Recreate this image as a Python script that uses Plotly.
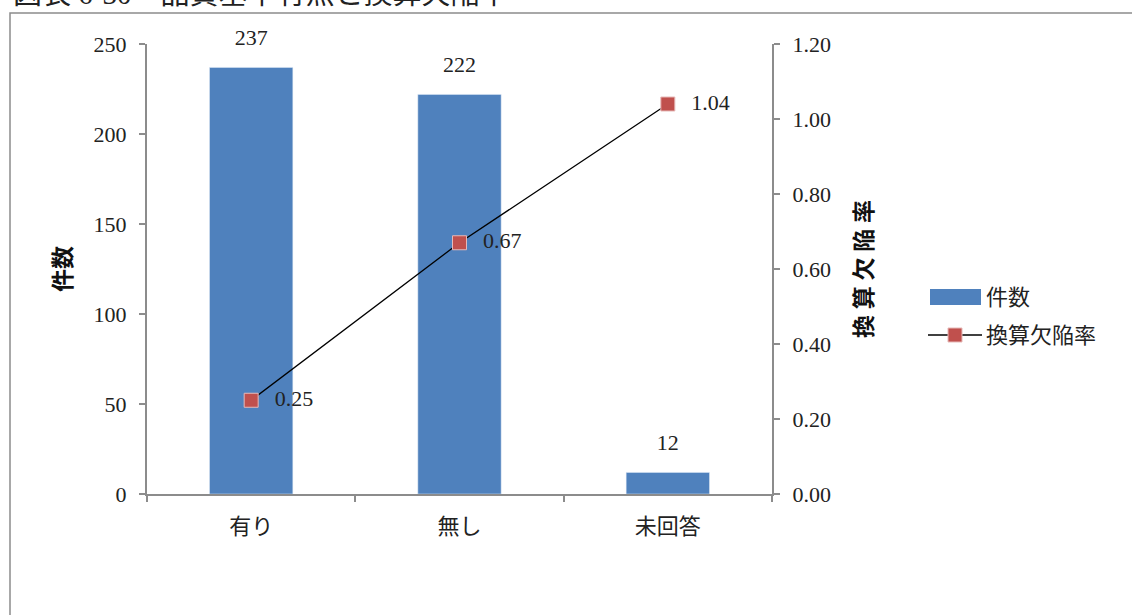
import plotly.graph_objects as go

categories = ["有り", "無し", "未回答"]
counts = [237, 222, 12]
defect_rates = [0.25, 0.67, 1.04]
y1_ticks = [0, 50, 100, 150, 200, 250]
y2_ticks = [0, 0.2, 0.4, 0.6, 0.8, 1.0, 1.2]

FONT = "'Liberation Serif', 'Noto Sans CJK JP', serif"
W, H = 1132, 615
ML, MT = 147, 44
PW, PH = 625, 450
MR, MB = W - ML - PW, H - MT - PH

def px(x):  # page pixel -> paper x
    return (x - ML) / PW

def py(y):  # page pixel -> paper y
    return (MT + PH - y) / PH

fig = go.Figure()
fig.add_trace(go.Bar(
    x=categories, y=counts, name="件数",
    marker=dict(color="#4F81BD"), width=0.4, showlegend=False,
))
fig.add_trace(go.Scatter(
    x=categories, y=counts, mode="markers+text",
    marker=dict(size=26, opacity=0),
    text=[str(v) for v in counts], textposition="top center",
    textfont=dict(size=22, color="#222", family=FONT),
    cliponaxis=False, showlegend=False, hoverinfo="skip",
))
fig.add_trace(go.Scatter(
    x=categories, y=defect_rates, name="換算欠陥率", yaxis="y2",
    mode="lines+markers",
    line=dict(color="black", width=1.3),
    marker=dict(symbol="square", size=14, color="#C0504D",
                line=dict(color="#E6B9B8", width=1)),
    cliponaxis=False, showlegend=False,
))
fig.add_trace(go.Scatter(
    x=categories, y=defect_rates, yaxis="y2", mode="markers+text",
    marker=dict(size=36, opacity=0),
    text=[f"{v:.2f}" for v in defect_rates], textposition="middle right",
    textfont=dict(size=22, color="#222", family=FONT),
    cliponaxis=False, showlegend=False, hoverinfo="skip",
))

axis_common = dict(
    showline=True, linecolor="#8c8c8c", linewidth=2,
    ticks="outside", ticklen=6, tickcolor="#8c8c8c", tickwidth=1.5,
    showgrid=False, zeroline=False,
    tickfont=dict(size=22, color="#222", family=FONT),
)

fig.update_layout(
    width=W, height=H,
    margin=dict(l=ML, r=MR, t=MT, b=MB, autoexpand=False),
    paper_bgcolor="white", plot_bgcolor="white",
    font=dict(family=FONT, color="#222"),
    xaxis=dict(**axis_common, tickson="boundaries", ticklabelstandoff=12),
    yaxis=dict(**axis_common, range=[0, 250], tickvals=y1_ticks, ticklabelstandoff=8,
               title=dict(text="<b>件数</b>", font=dict(size=23, color="#111", family=FONT), standoff=16)),
    yaxis2=dict(**axis_common, range=[0, 1.2], tickvals=y2_ticks, tickformat=".2f",
                overlaying="y", side="right", ticklabelstandoff=8,
                title=dict(text="<b>換 算 欠 陥 率</b>", font=dict(size=23, color="#111", family=FONT), standoff=26)),
    showlegend=False,
)

# outer chart frame (partially cut off by the image edge)
fig.add_shape(type="rect", xref="paper", yref="paper",
              x0=px(10), x1=px(1150), y0=py(640), y1=py(13),
              line=dict(color="#8c8c8c", width=1.5), fillcolor="rgba(0,0,0,0)", layer="below")

# clipped title at the very top
fig.add_annotation(text="図表 6-30　品質基準有無と換算欠陥率", xref="paper", yref="paper",
                   x=px(11), y=py(-6), xanchor="left", yanchor="middle", showarrow=False,
                   font=dict(size=29, color="#222", family=FONT))

# manual legend
fig.add_shape(type="rect", xref="paper", yref="paper",
              x0=px(930), x1=px(981), y0=py(305), y1=py(289),
              fillcolor="#4F81BD", line=dict(width=0))
fig.add_annotation(text="件数", xref="paper", yref="paper", x=px(984), y=py(297),
                   xanchor="left", yanchor="middle", showarrow=False,
                   font=dict(size=22, color="#222", family=FONT))
fig.add_shape(type="line", xref="paper", yref="paper",
              x0=px(928), x1=px(982), y0=py(335), y1=py(335),
              line=dict(color="black", width=1.3))
fig.add_shape(type="rect", xref="paper", yref="paper",
              x0=px(948), x1=px(962), y0=py(342), y1=py(328),
              fillcolor="#C0504D", line=dict(color="#E6B9B8", width=1))
fig.add_annotation(text="換算欠陥率", xref="paper", yref="paper", x=px(984), y=py(335),
                   xanchor="left", yanchor="middle", showarrow=False,
                   font=dict(size=22, color="#222", family=FONT))

fig.write_html("out.html", config={"displayModeBar": False},
               post_script="document.body.style.margin='0';document.body.style.overflow='hidden';")
